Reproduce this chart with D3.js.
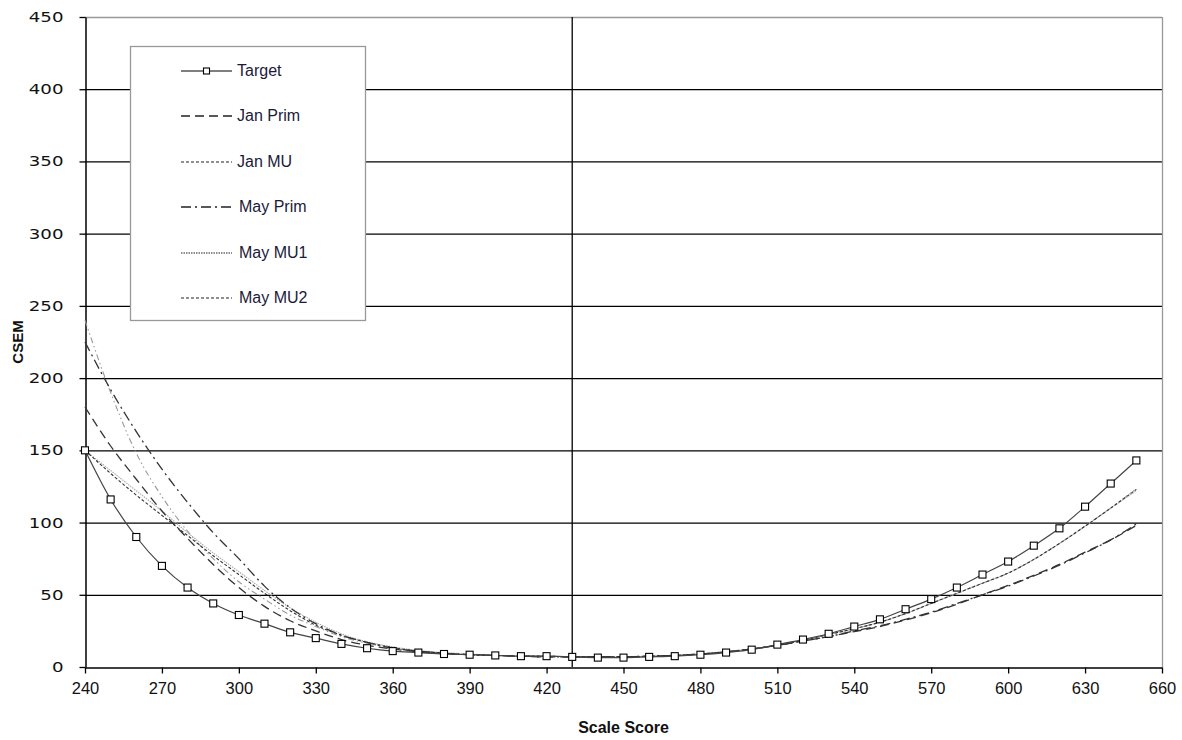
<!DOCTYPE html>
<html><head><meta charset="utf-8">
<script src="https://cdn.jsdelivr.net/npm/d3@7"></script>
<style>body{margin:0;background:#fff;} svg{display:block;}</style>
</head><body>
<svg id="chart" width="1182" height="740"></svg>
<script>
const scores = d3.range(240, 651, 10);
const target  = [150,116,90,70,55,44,36,30,24,20,16,13,11,10,9,8.5,8,7.5,7.5,7,6.5,6.5,7,7.5,8.5,10,12,15.5,19,23,28,33,40,47,55,64,73,84,96,111,127,143];
const janPrim = [180,153,130,108,89,71,55,42,32,25,19,15,12.5,10.5,9.5,8.5,8,7.5,7,7,7,7,7.5,8,9,10.5,12.5,15,18,21,24.5,28,32.5,37.5,43.5,50,56.5,63.5,71,79.5,88,98];
const janMU   = [150,134,119,105,91,77,64,51,39,29,22,17,13.5,11,9.5,8.5,8,7.5,7.5,7,7,7,7.5,8,9,10.5,12.5,15,18.5,22.5,26.5,31,37,44,51,58,65,74.5,85.5,97.5,110,123];
const mayPrim = [225,192,163,137,114,93,75,56,41,30,22,17,13,11,9.5,8.5,8,7.5,7,7,7,7,7.5,8,9,10.5,12.5,15,18,21,25,28.5,33,38,44,50,56,63,70.5,79,88,99];
const mayMU1  = [150,136,122,108,93,79,66,53,41,31,23,17.5,14,11.5,10,9,8,7.5,7.5,7,7,7,7.5,8,9,10.5,12.5,15,18.5,22.5,26.5,31,37,44,51,58,65,74.5,85.5,97.5,110,122];
const mayMU2  = [240,190,148,118,94,75,59,47,36,28,21,16.5,13,11,9.5,8.5,8,7.5,7.5,7,7,7,7.5,8,9,10.5,12.5,15,18.5,22.5,26.5,31,37,44,51,58,65,74.5,85.5,97.5,110,123.5];
const seriesNames = ["Target","Jan Prim","Jan MU","May Prim","May MU1","May MU2"];
const xTicks = d3.range(240, 661, 30);
const yTicks = d3.range(0, 451, 50);

const series = [
  {name:"Target",  values:target,  color:"#444", dash:null,        width:1.2, marker:true},
  {name:"Jan Prim",values:janPrim, color:"#333", dash:"9,5",       width:1.3},
  {name:"Jan MU",  values:janMU,   color:"#333", dash:"3,2",       width:1.1},
  {name:"May Prim",values:mayPrim, color:"#333", dash:"10,4,2,4",  width:1.3},
  {name:"May MU1", values:mayMU1,  color:"#aaa", dash:"1.5,1",     width:1.1},
  {name:"May MU2", values:mayMU2,  color:"#999", dash:"6,3,1.5,3,1.5,3", width:1.1}
];

const svg = d3.select("#chart");
const L=85, R=1162, T=17, B=667;
const x = d3.scaleLinear().domain([240,660]).range([L,R]);
const y = d3.scaleLinear().domain([0,450]).range([B,T]);

svg.append("g").selectAll("line").data(yTicks.filter(v=>v>0 && v<450)).join("line")
  .attr("x1",L).attr("x2",R).attr("y1",d=>y(d)+0.5).attr("y2",d=>y(d)+0.5)
  .attr("stroke","#000").attr("stroke-width",1.3);
svg.append("line").attr("x1",L).attr("x2",R).attr("y1",y(450)+0.5).attr("y2",y(450)+0.5).attr("stroke","#999").attr("stroke-width",1.3);
svg.append("line").attr("x1",R+0.5).attr("x2",R+0.5).attr("y1",T).attr("y2",B).attr("stroke","#999").attr("stroke-width",1.3);
svg.append("line").attr("x1",x(430)).attr("x2",x(430)).attr("y1",T).attr("y2",B).attr("stroke","#000").attr("stroke-width",1.3);

const xAxis = svg.append("g").attr("transform",`translate(0,${B+0.5})`)
  .call(d3.axisBottom(x).tickValues(xTicks).tickSize(6).tickSizeOuter(0));
xAxis.select(".domain").attr("stroke","#000").attr("stroke-width",1.5);
xAxis.selectAll(".tick line").attr("stroke","#000").attr("stroke-width",1.3);
xAxis.selectAll("text").attr("font-family","'Liberation Sans',sans-serif")
  .attr("font-size",16.5).attr("fill","#111").attr("y",11).attr("dy","0.95em");

const ys = 1.3;
const yAxis = svg.append("g").attr("transform",`translate(${L+0.5},0)`)
  .call(d3.axisLeft(y).tickValues(yTicks).tickSize(6).tickSizeOuter(0));
yAxis.select(".domain").attr("stroke","#000").attr("stroke-width",1.5);
yAxis.selectAll(".tick line").attr("stroke","#000").attr("stroke-width",1.3);
yAxis.selectAll("text").attr("font-family","'DejaVu Sans',sans-serif")
  .attr("font-size",14).attr("fill","#111").attr("x",-22/ys)
  .attr("transform",`scale(${ys},1)`);

svg.append("text").attr("x",(L+R)/2).attr("y",733).attr("text-anchor","middle")
  .attr("font-family","'Liberation Sans',sans-serif").attr("font-weight","bold")
  .attr("font-size",16).attr("fill","#111").text("Scale Score");
svg.append("text").attr("transform",`translate(23,342) rotate(-90)`).attr("text-anchor","middle")
  .attr("font-family","'Liberation Sans',sans-serif").attr("font-weight","bold")
  .attr("font-size",15).attr("fill","#111").text("CSEM");

const line = d3.line().x((d,i)=>x(scores[i])).y(d=>y(d)).curve(d3.curveMonotoneX);
const plot = svg.append("g");
series.slice().reverse().forEach(s=>{
  plot.append("path").attr("d",line(s.values)).attr("fill","none")
    .attr("stroke",s.color).attr("stroke-width",s.width)
    .attr("stroke-dasharray",s.dash);
});
plot.append("g").selectAll("rect").data(target).join("rect")
  .attr("x",(d,i)=>x(scores[i])-3.5).attr("y",d=>y(d)-3.5).attr("width",7).attr("height",7)
  .attr("fill","#fff").attr("stroke","#000").attr("stroke-width",1.1);

const lg = svg.append("g");
lg.append("rect").attr("x",130.5).attr("y",46.5).attr("width",235).attr("height",274)
  .attr("fill","#fff").attr("stroke","#999").attr("stroke-width",1.3);
const ly = [71,116,162,207,253,298];
series.forEach((s,i)=>{
  lg.append("line").attr("x1",181).attr("x2",232).attr("y1",ly[i]).attr("y2",ly[i])
    .attr("stroke",i===0?"#000":"#222").attr("stroke-width",s.width)
    .attr("stroke-dasharray",i===5?"3,2":s.dash);
  if(s.marker){
    lg.append("rect").attr("x",203.5).attr("y",ly[i]-3).attr("width",6).attr("height",6)
      .attr("fill","#fff").attr("stroke","#000").attr("stroke-width",1.1);
  }
  lg.append("text").attr("x",i>=3?239:237).attr("y",ly[i]+5)
    .attr("font-family","'Liberation Sans',sans-serif")
    .attr("font-size",16).attr("fill","#1a1a3a").text(seriesNames[i]);
});
</script>
</body></html>
